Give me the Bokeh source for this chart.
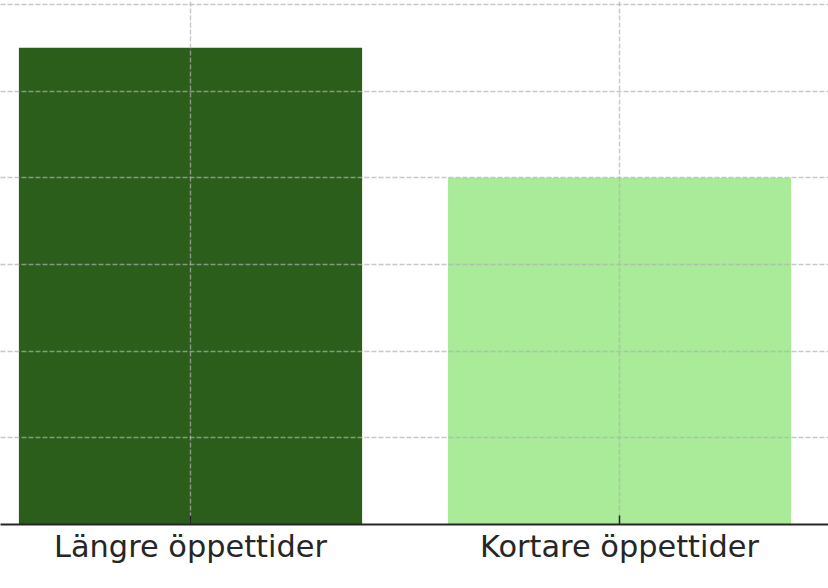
from bokeh.plotting import figure
from bokeh.models import Range1d, FixedTicker
from bokeh.embed import file_html
from bokeh.resources import INLINE

categories = ["Längre öppettider", "Kortare öppettider"]
values = [5.5, 4.0]
colors = ["#2b5e1b", "#a9eb99"]
y_ticks = [0, 1, 2, 3, 4, 5, 6]

xs = list(range(len(categories)))

p = figure(frame_width=828, frame_height=524, output_backend="svg", toolbar_location=None,
           x_range=Range1d(-0.4429, 1.4872), y_range=Range1d(0, 6.046),
           min_border=0, min_border_left=0, min_border_right=0, min_border_top=0)
p.outline_line_color = None
p.background_fill_color = "white"

p.vbar(x=xs, top=values, width=0.8, bottom=0, fill_color=colors, line_color=None)

p.yaxis.visible = False
p.xaxis.ticker = FixedTicker(ticks=xs)
p.xaxis.major_label_overrides = {i: c for i, c in enumerate(categories)}
p.xaxis.major_label_text_font = "DejaVu Sans"
p.xaxis.major_label_text_font_size = "30.4px"
p.xaxis.major_label_text_color = "#262626"
p.xaxis.major_label_standoff = 4
p.xaxis.axis_line_color = "#262626"
p.xaxis.axis_line_width = 2
p.xaxis.major_tick_in = 9
p.xaxis.major_tick_out = 0
p.xaxis.major_tick_line_color = "#262626"
p.xaxis.major_tick_line_width = 1.5
p.xaxis.minor_tick_line_color = None
p.xaxis.level = "overlay"

p.ygrid.ticker = FixedTicker(ticks=y_ticks)
for g in (p.xgrid, p.ygrid):
    g.grid_line_color = "#b0b0b0"
    g.grid_line_alpha = 0.7
    g.grid_line_dash = "5 2"
    g.grid_line_width = 1.4
    g.level = "annotation"

open("out.html", "w").write(file_html(p, INLINE))
